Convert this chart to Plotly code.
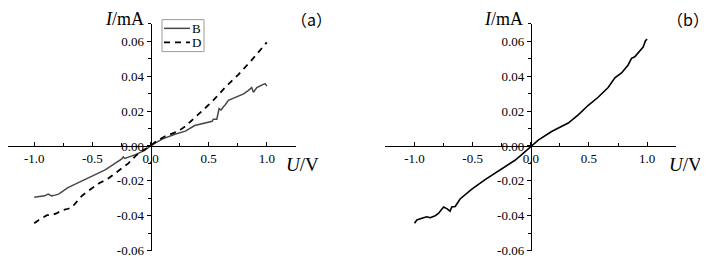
import plotly.graph_objects as go

# ---- data ----
B_x = [-1.0, -0.95, -0.91, -0.88, -0.85, -0.82, -0.79, -0.71, -0.62, -0.51, -0.39, -0.305, -0.25, -0.234, -0.22,
       -0.13, -0.05, 0.0, 0.1, 0.21, 0.3, 0.38, 0.47, 0.53, 0.54, 0.57, 0.59, 0.607, 0.627, 0.64, 0.67, 0.73,
       0.80, 0.84, 0.87, 0.885, 0.914, 0.97, 0.985, 1.0]
B_y = [-0.0294, -0.0289, -0.0286, -0.0276, -0.0286, -0.0282, -0.0276, -0.0239, -0.0211, -0.0174, -0.0137, -0.0100,
       -0.0076, -0.0063, -0.0072, -0.005, -0.0026, 0.0, 0.0039, 0.0067, 0.0085, 0.0117, 0.0131, 0.0141, 0.0153,
       0.0153, 0.0214, 0.0206, 0.0224, 0.0233, 0.0261, 0.0276, 0.0298, 0.0317, 0.0335, 0.0307, 0.0335, 0.0353,
       0.0357, 0.0344]

D_x = [-1.0, -0.96, -0.89, -0.85, -0.81, -0.76, -0.71, -0.68, -0.65, -0.59, -0.535, -0.48, -0.435, -0.377, -0.32,
       -0.277, -0.22, -0.19, -0.13, -0.08, 0.0, 0.04, 0.125, 0.24, 0.3, 0.41, 0.527, 0.641, 0.756, 0.87, 0.985, 1.0]
D_y = [-0.0443, -0.0424, -0.0397, -0.0397, -0.0387, -0.0369, -0.036, -0.0354, -0.0332, -0.0286, -0.0258, -0.023,
       -0.0211, -0.0193, -0.0165, -0.0147, -0.0119, -0.010, -0.0058, -0.0032, 0.0, 0.0022, 0.0055, 0.0085, 0.0113,
       0.0178, 0.0252, 0.0335, 0.0409, 0.0492, 0.0585, 0.0594]

C_x = [-1.0, -0.98, -0.937, -0.894, -0.865, -0.822, -0.794, -0.75, -0.722, -0.694, -0.68, -0.65, -0.608, -0.507,
       -0.393, -0.307, -0.221, -0.136, -0.078, 0.0, 0.064, 0.179, 0.236, 0.322, 0.408, 0.494, 0.579, 0.665,
       0.723, 0.78, 0.837, 0.866, 0.894, 0.937, 0.966, 0.986, 1.0]
C_y = [-0.0443, -0.0424, -0.0415, -0.0406, -0.0411, -0.040, -0.0387, -0.035, -0.0359, -0.0374, -0.035, -0.0347,
       -0.0304, -0.0248, -0.0193, -0.0156, -0.0119, -0.0082, -0.0050, -0.0003, 0.0033, 0.0083, 0.0103, 0.0131,
       0.0178, 0.0233, 0.0279, 0.0335, 0.039, 0.0418, 0.0464, 0.0502, 0.0511, 0.0548, 0.0567, 0.0603, 0.0612]

legend_names = ["B", "D"]

x_tickvals = [-1.0, -0.5, 0.0, 0.5, 1.0]
x_ticktext = ["-1.0", "-0.5", "0.0", "0.5", "1.0"]
y_tickvals = [-0.06, -0.04, -0.02, 0.0, 0.02, 0.04, 0.06]
y_ticktext = ["-0.06", "-0.04", "-0.02", "0.00", "0.02", "0.04", "0.06"]

# page has an 8px body margin; the figure starts at (8, 8)
OFF = 8
W, H = 700, 261
SERIF = "Liberation Serif, Times New Roman, serif"
CJK = "Noto Sans CJK SC, Liberation Serif, serif"

B_STYLE = dict(color="#474747", width=1.5)
D_STYLE = dict(color="black", width=1.8, dash="6px,5px")

def px(x):
    return (x - OFF) / W

def py(y):
    return 1 - (y - OFF) / H

fig = go.Figure()
fig.add_trace(go.Scatter(x=B_x, y=B_y, mode="lines", name=legend_names[0], showlegend=False,
                         line=B_STYLE, xaxis="x", yaxis="y"))
fig.add_trace(go.Scatter(x=D_x, y=D_y, mode="lines", name=legend_names[1], showlegend=False,
                         line=D_STYLE, xaxis="x", yaxis="y"))
fig.add_trace(go.Scatter(x=C_x, y=C_y, mode="lines", name="(b)", showlegend=False,
                         line=dict(color="black", width=1.6), xaxis="x2", yaxis="y2"))

y_pos0 = py(150.3)  # paper y of value 0

SCALE_X = 116.3  # px per volt in the reference
left_a = 8.0
range_a = [(left_a - 150.5) / SCALE_X, 1.25]

def xaxis_cfg(domain, rng):
    return dict(domain=domain, range=rng, anchor="free", position=y_pos0,
                showline=True, linecolor="black", linewidth=1, showgrid=False, zeroline=False,
                tickmode="array", tickvals=x_tickvals, ticktext=x_ticktext,
                ticks="inside", ticklen=4, tickcolor="black", tickwidth=1,
                minor=dict(dtick=0.25, tick0=0, ticks="inside", ticklen=3, tickcolor="black", showgrid=False),
                tickfont=dict(family=SERIF, size=13, color="black"))

def yaxis_cfg(xpos):
    return dict(domain=[py(258.3), py(24.3)], range=[-0.06, 0.07], anchor="free", position=xpos,
                showline=True, linecolor="black", linewidth=1, showgrid=False, zeroline=False,
                tickmode="array", tickvals=y_tickvals, ticktext=y_ticktext,
                ticks="outside", ticklen=4, tickcolor="black", tickwidth=1,
                minor=dict(dtick=0.01, tick0=0, ticks="outside", ticklen=3, tickcolor="black", showgrid=False),
                tickfont=dict(family=SERIF, size=13, color="black"))

fig.update_layout(
    width=W, height=H, margin=dict(l=0, r=0, t=0, b=0),
    paper_bgcolor="white", plot_bgcolor="white",
    xaxis=xaxis_cfg([px(left_a), px(150.5 + 1.25 * SCALE_X)], range_a),
    yaxis=yaxis_cfg(px(150.5)),
    xaxis2=xaxis_cfg([px(530.8 - 1.25 * SCALE_X), px(530.8 + 1.25 * SCALE_X)], [-1.25, 1.25]),
    yaxis2=yaxis_cfg(px(530.8)),
    showlegend=False,
)

def ann(text, xp, yp, size, family=SERIF, xanchor="center", pad=0):
    fig.add_annotation(text=text, x=px(xp), y=py(yp), xref="paper", yref="paper",
                       showarrow=False, xanchor=xanchor, yanchor="middle", borderpad=pad,
                       font=dict(family=family, size=size, color="black"))

ann("<i>I</i>/mA", 124.5, 19, 18)
ann("<i>I</i>/mA", 503, 19, 18)
ann("<i>U</i>/V", 302, 169, 19)
ann("<i>U</i>/V", 685, 169, 19)
ann("（a）", 311, 19, 16, CJK)
ann("（b）", 688, 19, 16, CJK)

# legend box for panel (a)
fig.add_shape(type="rect", xref="paper", yref="paper", x0=px(162), x1=px(204), y0=py(53), y1=py(20),
              line=dict(color="#9a9a9a", width=1), fillcolor="white", layer="above")
fig.add_shape(type="line", xref="paper", yref="paper", x0=px(164), x1=px(190), y0=py(29), y1=py(29),
              line=B_STYLE)
fig.add_shape(type="line", xref="paper", yref="paper", x0=px(164), x1=px(190), y0=py(43.5), y1=py(43.5),
              line=D_STYLE)
ann(legend_names[0], 191, 29, 13, xanchor="left")
ann(legend_names[1], 191, 43.5, 13, xanchor="left")

fig.write_html("out.html")
